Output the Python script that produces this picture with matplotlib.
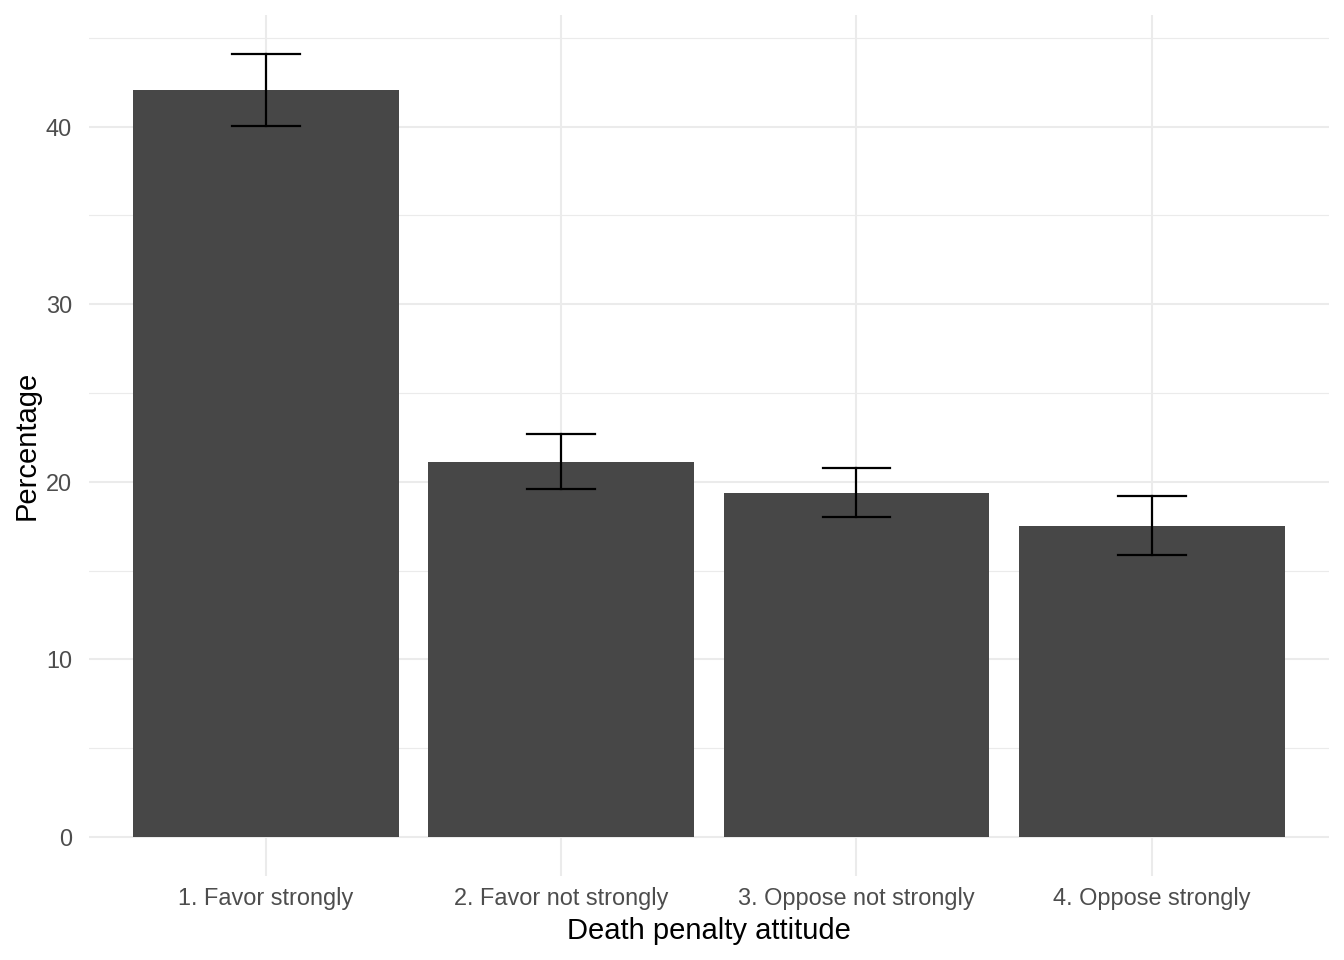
import matplotlib
matplotlib.use("Agg")
import matplotlib.pyplot as plt
import numpy as np

categories = ["1. Favor strongly", "2. Favor not strongly",
              "3. Oppose not strongly", "4. Oppose strongly"]
percent = [42.07, 21.09, 19.35, 17.49]
ci_low = [40.05, 19.57, 18.0, 15.86]
ci_high = [44.1, 22.67, 20.75, 19.18]

plt.rcParams['font.family'] = ['Liberation Sans', 'DejaVu Sans']

fig = plt.figure(figsize=(13.44, 9.6), dpi=100)
ax = fig.add_axes([0.066, 0.0875, 0.9228, 0.8972])

x = np.arange(1, len(categories) + 1)
ax.bar(x, percent, width=0.9, color="#474747", zorder=2)
for xi, lo, hi in zip(x, ci_low, ci_high):
    ax.plot([xi, xi], [lo, hi], color="black", lw=1.6, zorder=3)
    for yv in (lo, hi):
        ax.plot([xi - 0.115, xi + 0.115], [yv, yv], color="black", lw=1.6, zorder=3)

ymax = max(ci_high)
ax.set_xlim(0.4, 4.6)
ax.set_ylim(-0.05 * ymax, ymax * 1.05)

ax.set_xticks(x)
ax.set_xticklabels(categories)
ax.set_yticks([0, 10, 20, 30, 40])
ax.set_yticks([5, 15, 25, 35, 45], minor=True)
ax.tick_params(axis="both", which="both", length=0, labelsize=16.9, colors="#4D4D4D")
ax.tick_params(axis="x", pad=8)
ax.tick_params(axis="y", pad=12)

ax.grid(True, which="major", color="#EBEBEB", lw=1.5, zorder=0)
ax.grid(True, which="minor", axis="y", color="#EBEBEB", lw=0.8, zorder=0)
ax.set_axisbelow(True)
for s in ax.spines.values():
    s.set_visible(False)

ax.set_xlabel("Death penalty attitude", fontsize=21, labelpad=5)
ax.set_ylabel("Percentage", fontsize=21, labelpad=4)

fig.savefig("out.png", dpi=100, facecolor="white")
